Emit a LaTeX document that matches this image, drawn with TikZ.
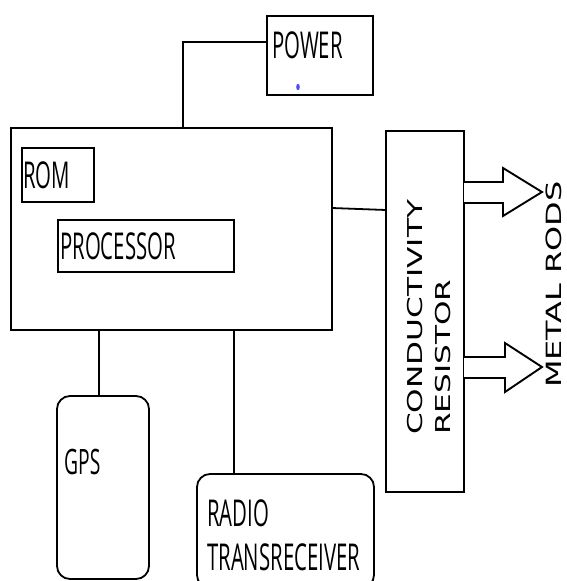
\documentclass[tikz,border=0pt]{standalone}
\usepackage{fontspec}
\newfontfamily\lblfont[FakeStretch=0.55]{Open Sans}
\newfontfamily\rotfont[FakeStretch=1.52]{DejaVu Sans}
\begin{document}
\begin{tikzpicture}[x=1pt,y=-1pt,
  box/.style={draw, line width=2.2pt, inner sep=0pt, outer sep=0pt, anchor=north west},
  rbox/.style={box, line width=1.8pt, rounded corners=13pt},
  lbl/.style={anchor=base west, inner sep=0pt, font=\lblfont\fontsize{37}{41}\selectfont},
  rlbl/.style={anchor=base west, inner sep=0pt, rotate=90, font=\rotfont\fontsize{20.5}{24}\selectfont},
  wire/.style={line width=1.8pt},
  fatarrow/.style={line width=1.9pt, fill=white, line join=miter}]
\useasboundingbox (0,0) rectangle (566,581);
% boxes
\node[box, minimum width=106pt, minimum height=79pt] (pw) at (267,16) {};
\node[box, line width=2.5pt, minimum width=321pt, minimum height=202pt] (main) at (11,128) {};
\node[box, minimum width=72pt, minimum height=54pt] (rom) at (22,148) {};
\node[box, minimum width=176pt, minimum height=52pt] (proc) at (58,220) {};
\node[box, line width=1.8pt, minimum width=78pt, minimum height=361pt] (cond) at (386,131) {};
\node[rbox, minimum width=92pt, minimum height=183pt] (gps) at (57,396) {};
\node[rbox, minimum width=177pt, minimum height=114pt] (radio) at (197,474) {};
% labels
\node[lbl] (tpw) at (272,58) {POWER};
\node[lbl] (trom) at (23,188) {ROM};
\node[lbl] (tproc) at (60,259) {PROCESSOR};
\node[lbl, font=\lblfont\fontsize{35}{39}\selectfont] (tgps) at (64,474) {GPS};
\node[lbl] (tradio) at (207,526) {RADIO};
\node[lbl] (ttrans) at (207,570) {TRANSRECEIVER};
\node[rlbl] (tcond) at (422.5,435) {CONDUCTIVITY};
\node[rlbl] (tres) at (450.5,435) {RESISTOR};
\node[rlbl, font=\rotfont\fontsize{21}{25}\selectfont] (trods) at (561,388) {METAL RODS};
% blue dot
\fill[blue!70] (298,87) ellipse (1.8pt and 3.2pt);
% connectors
\coordinate (j1) at (183,42);
\draw[wire] (pw.west |- j1) -- (j1) -- (j1 |- main.north);
\draw[wire] (main.east |- 0,208) -- (cond.west |- 0,210);
\draw[wire] (main.south -| 99,0) -- (gps.north -| 99,0);
\draw[wire] (main.south -| 234,0) -- (radio.north -| 234,0);
% arrows
\draw[fatarrow] (cond.east |- 0,182) -- (503,182) -- (503,168) -- (542,192) -- (503,216) -- (503,203) -- (cond.east |- 0,203);
\draw[fatarrow] (cond.east |- 0,357) -- (505,357) -- (505,343) -- (542,367) -- (505,392) -- (505,378) -- (cond.east |- 0,378);
\end{tikzpicture}
\end{document}
